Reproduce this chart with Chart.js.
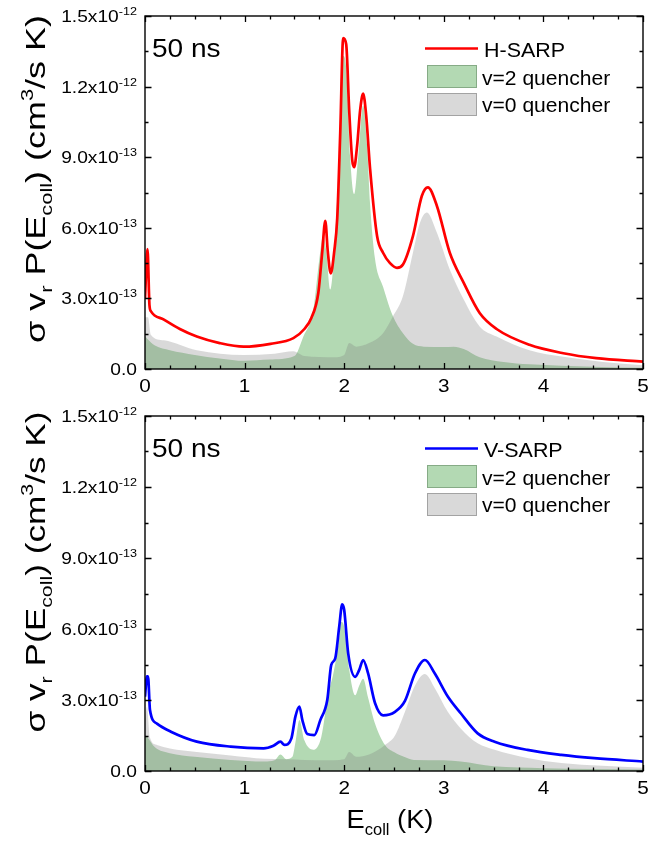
<!DOCTYPE html>
<html>
<head>
<meta charset="utf-8">
<script src="https://cdn.jsdelivr.net/npm/chart.js@4"></script>
<style>
  body { margin: 0; background: #fff; }
  #wrap { position: relative; width: 648px; height: 842px; }
  canvas { position: absolute; left: 0; }
</style>
</head>
<body>
<div id="wrap">
  <canvas id="topChart" width="648" height="400" style="top:0"></canvas>
  <canvas id="bottomChart" width="648" height="442" style="top:400px"></canvas>
</div>
<script>
// values in units of 1e-13 cm^3/(s K), energies in K
const hSarpE = [0, 0.025, 0.045, 0.06, 0.19, 0.35, 0.52, 0.75, 0.99, 1.26, 1.49, 1.6, 1.67, 1.74, 1.78, 1.81, 1.835, 1.865, 1.9, 1.93, 1.96, 1.99, 2.02, 2.05, 2.08, 2.1, 2.13, 2.16, 2.19, 2.22, 2.26, 2.33, 2.39, 2.46, 2.53, 2.59, 2.69, 2.78, 2.84, 2.93, 3.06, 3.2, 3.36, 3.53, 3.86, 4.2, 4.53, 5];
const hSarpV = [3.0, 5.1, 2.7, 2.45, 2.1, 1.7, 1.38, 1.1, 0.95, 1.07, 1.31, 1.7, 2.17, 3.23, 5.0, 6.3, 5.0, 4.06, 5.0, 6.4, 10.0, 14.06, 13.8, 11.0, 8.9, 8.58, 9.5, 11.0, 11.7, 10.8, 8.5, 5.65, 4.94, 4.5, 4.3, 4.44, 5.65, 7.36, 7.72, 6.94, 4.94, 3.66, 2.38, 1.7, 1.03, 0.67, 0.46, 0.31];

const topGreenE = [0, 0.02, 0.1, 0.25, 0.5, 0.75, 1.0, 1.25, 1.5, 1.59, 1.69, 1.75, 1.79, 1.82, 1.86, 1.9, 1.935, 1.97, 1.99, 2.02, 2.06, 2.1, 2.14, 2.19, 2.23, 2.26, 2.31, 2.39, 2.49, 2.59, 2.69, 2.8, 3.0, 3.1, 3.2, 3.36, 3.6, 3.86, 4.5, 5];
const topGreenV = [1.4, 1.3, 1.0, 0.8, 0.6, 0.45, 0.35, 0.4, 0.55, 1.38, 2.52, 4.66, 5.7, 5.0, 3.38, 5.0, 7.8, 12.0, 13.3, 12.8, 9.0, 7.44, 9.0, 11.2, 9.5, 7.0, 4.66, 3.5, 2.24, 1.52, 1.07, 0.95, 0.93, 0.95, 0.85, 0.5, 0.3, 0.2, 0.1, 0.05];

const topGreyE = [0, 0.03, 0.06, 0.19, 0.52, 0.99, 1.3, 1.49, 1.6, 1.9, 2.0, 2.05, 2.12, 2.25, 2.39, 2.49, 2.59, 2.69, 2.76, 2.83, 2.93, 3.06, 3.2, 3.36, 3.53, 3.86, 4.2, 4.6, 5];
const topGreyV = [2.2, 2.2, 1.45, 1.22, 0.8, 0.6, 0.65, 0.75, 0.55, 0.5, 0.6, 1.1, 0.95, 1.1, 1.52, 2.24, 3.1, 4.94, 6.2, 6.65, 5.8, 4.23, 2.95, 1.81, 1.38, 0.8, 0.52, 0.3, 0.16];

const vSarpE = [0, 0.02, 0.03, 0.05, 0.12, 0.26, 0.52, 0.86, 1.19, 1.29, 1.36, 1.4, 1.47, 1.51, 1.55, 1.58, 1.63, 1.7, 1.76, 1.83, 1.87, 1.91, 1.95, 1.98, 2.0, 2.04, 2.11, 2.15, 2.19, 2.24, 2.31, 2.39, 2.51, 2.61, 2.71, 2.81, 2.91, 3.04, 3.17, 3.34, 3.51, 3.84, 4.18, 4.51, 5];
const vSarpV = [3.14, 4.0, 4.0, 2.58, 2.0, 1.66, 1.24, 1.03, 0.96, 1.07, 1.24, 1.1, 1.38, 2.3, 2.72, 2.15, 1.56, 1.52, 2.15, 3.0, 4.48, 4.76, 6.1, 7.04, 6.8, 4.97, 3.98, 4.26, 4.69, 4.12, 2.86, 2.35, 2.5, 2.96, 4.12, 4.69, 4.12, 3.15, 2.44, 1.59, 1.24, 0.89, 0.68, 0.54, 0.4];

const botGreenE = [0, 0.02, 0.1, 0.25, 0.5, 0.86, 1.2, 1.3, 1.36, 1.42, 1.48, 1.51, 1.55, 1.6, 1.69, 1.77, 1.84, 1.89, 1.94, 1.97, 2.0, 2.05, 2.11, 2.15, 2.19, 2.24, 2.31, 2.41, 2.5, 2.6, 2.7, 3.0, 3.17, 3.5, 4.0, 5];
const botGreenV = [1.5, 1.45, 1.0, 0.75, 0.6, 0.47, 0.4, 0.45, 0.7, 0.5, 0.6, 1.2, 2.15, 1.3, 0.9, 1.44, 3.27, 4.1, 5.3, 6.3, 6.1, 4.3, 3.2, 3.6, 3.9, 3.1, 2.0, 1.1, 0.8, 0.6, 0.47, 0.45, 0.4, 0.2, 0.12, 0.06];

const botGreyE = [0, 0.02, 0.05, 0.12, 0.25, 0.52, 0.86, 1.2, 1.4, 1.8, 2.0, 2.05, 2.12, 2.25, 2.41, 2.51, 2.61, 2.71, 2.81, 2.91, 3.04, 3.17, 3.34, 3.51, 3.84, 4.18, 5];
const botGreyV = [2.2, 2.7, 1.4, 1.1, 0.95, 0.8, 0.66, 0.52, 0.5, 0.45, 0.5, 0.8, 0.6, 0.7, 1.1, 1.5, 2.5, 3.6, 4.1, 3.5, 2.5, 1.8, 1.17, 0.9, 0.55, 0.34, 0.14];

const FONT = '"Liberation Sans", Arial, Helvetica, sans-serif';
const GREEN = '#b3d9b3';
const GREY = 'rgba(124,124,124,0.29)';

function pts(xs, ys) { return xs.map((x, i) => ({ x: x, y: ys[i] })); }

// draws a row of text pieces [text, size, dy], horizontally stretched by sx
function drawParts(ctx, parts, x, y, align, sx) {
  let w = 0;
  const ws = parts.map(p => {
    ctx.font = p[1] + 'px ' + FONT;
    const m = ctx.measureText(p[0]).width * sx;
    w += m;
    return m;
  });
  let cx = align === 'right' ? x - w : align === 'center' ? x - w / 2 : x;
  parts.forEach((p, i) => {
    ctx.save();
    ctx.font = p[1] + 'px ' + FONT;
    ctx.textAlign = 'left';
    ctx.textBaseline = 'alphabetic';
    ctx.translate(cx, y + (p[2] || 0));
    ctx.scale(sx, 1);
    ctx.fillText(p[0], 0, 0);
    ctx.restore();
    cx += ws[i];
  });
}

function naturalWidth(ctx, parts) {
  let w = 0;
  parts.forEach(p => { ctx.font = p[1] + 'px ' + FONT; w += ctx.measureText(p[0]).width; });
  return w;
}

function yLabel(v) {
  if (v === 0) return [['0.0', 16]];
  if (v >= 10) return [[(v / 10).toFixed(1) + 'x10', 16], ['-12', 10.5, -7]];
  return [[v.toFixed(1) + 'x10', 16], ['-13', 10.5, -7]];
}

const framePlugin = {
  id: 'frame',
  afterDatasetsDraw(chart, args, opts) {
    const ctx = chart.ctx;
    const a = chart.chartArea;
    const xs = chart.scales.x, ys = chart.scales.y;
    ctx.save();
    ctx.strokeStyle = '#000';
    ctx.fillStyle = '#000';

    // ticks, inward on all four sides
    ctx.lineWidth = 1.3;
    const tickSet = (scale, sub) => {
      const out = [];
      const t = scale.ticks.map(k => k.value);
      t.forEach((v, i) => {
        out.push([v, true]);
        if (i < t.length - 1) {
          for (let j = 1; j < sub; j++) out.push([v + (t[i + 1] - v) * j / sub, false]);
        }
      });
      return out;
    };
    ctx.beginPath();
    tickSet(xs, 4).forEach(([v, major]) => {
      const px = Math.round(xs.getPixelForValue(v)) + 0.5;
      const L = major ? 6 : 3.5;
      ctx.moveTo(px, a.bottom); ctx.lineTo(px, a.bottom - L);
      ctx.moveTo(px, a.top); ctx.lineTo(px, a.top + L);
    });
    tickSet(ys, 2).forEach(([v, major]) => {
      const py = Math.round(ys.getPixelForValue(v)) + 0.5;
      const L = major ? 6.5 : 3.5;
      ctx.moveTo(a.left, py); ctx.lineTo(a.left + L, py);
      ctx.moveTo(a.right, py); ctx.lineTo(a.right - L, py);
    });
    ctx.stroke();

    ctx.lineWidth = 1.4;
    ctx.strokeRect(a.left, a.top, a.right - a.left, a.bottom - a.top);

    // tick labels
    xs.ticks.forEach(k => {
      drawParts(ctx, [[String(k.value), 18.5]], xs.getPixelForValue(k.value), a.bottom + 22.5, 'center', 1.12);
    });
    ys.ticks.forEach(k => {
      drawParts(ctx, yLabel(k.value), a.left - 8, ys.getPixelForValue(k.value) + 6, 'right', 1.2);
    });

    // y axis title, rotated
    const title = [['σ v', 28], ['r', 17, 7], [' P(E', 28], ['coll', 17, 7], [') (cm', 28], ['3', 17, -12], ['/s K)', 28]];
    const sx = opts.titleLen / naturalWidth(ctx, title);
    ctx.save();
    ctx.translate(45, opts.titleCenter);
    ctx.rotate(-Math.PI / 2);
    drawParts(ctx, title, 0, 0, 'center', sx);
    ctx.restore();

    // time label
    drawParts(ctx, [['50 ns', 25.5]], a.left + 7, a.top + 41, 'left', 1.1);

    // legend
    const lx = 425, ty = a.top;
    ctx.strokeStyle = opts.lineColor;
    ctx.lineWidth = 2.5;
    ctx.beginPath(); ctx.moveTo(lx, ty + 32.5); ctx.lineTo(lx + 53, ty + 32.5); ctx.stroke();
    ctx.lineWidth = 1;
    ctx.fillStyle = GREEN; ctx.fillRect(lx + 2, ty + 49, 50, 23);
    ctx.strokeStyle = '#86ab86'; ctx.strokeRect(lx + 2.5, ty + 49.5, 49, 22);
    ctx.fillStyle = '#d9d9d9'; ctx.fillRect(lx + 2, ty + 77, 50, 23);
    ctx.strokeStyle = '#a3a3a3'; ctx.strokeRect(lx + 2.5, ty + 77.5, 49, 22);
    ctx.fillStyle = '#000';
    drawParts(ctx, [[opts.lineLabel, 19.5]], 484, ty + 40.5, 'left', 1.1);
    drawParts(ctx, [['v=2 quencher', 19.5]], 482, ty + 69, 'left', 1.08);
    drawParts(ctx, [['v=0 quencher', 19.5]], 482, ty + 96, 'left', 1.08);

    if (opts.xTitle) {
      drawParts(ctx, [['E', 26.5], ['coll', 16, 7], [' (K)', 26.5]], 390, a.bottom + 57, 'center', 1.03);
    }
    ctx.restore();
  }
};

function makePanel(id, lineLabel, lineColor, lineData, greenData, greyData, frameOpts, bottomSpace) {
  return new Chart(document.getElementById(id), {
    type: 'line',
    data: {
      datasets: [
        { label: lineLabel, data: lineData, borderColor: lineColor, borderWidth: 2.7, fill: false, order: 0 },
        { label: 'v=0 quencher', data: greyData, borderWidth: 0, borderColor: 'rgba(0,0,0,0)', backgroundColor: GREY, fill: 'origin', order: 1 },
        { label: 'v=2 quencher', data: greenData, borderWidth: 0, borderColor: 'rgba(0,0,0,0)', backgroundColor: GREEN, fill: 'origin', order: 2 }
      ]
    },
    options: {
      responsive: false,
      animation: false,
      events: [],
      elements: { point: { radius: 0 }, line: { cubicInterpolationMode: 'monotone' } },
      layout: { padding: { top: 16, right: 5, left: 0, bottom: 0 } },
      scales: {
        x: {
          type: 'linear', min: 0, max: 5,
          ticks: { stepSize: 1, display: false },
          grid: { display: false }, border: { display: false },
          afterFit: s => { s.height = bottomSpace; }
        },
        y: {
          min: 0, max: 15,
          ticks: { stepSize: 3, display: false },
          grid: { display: false }, border: { display: false },
          afterFit: s => { s.width = 145; }
        }
      },
      plugins: {
        legend: { display: false },
        tooltip: { enabled: false },
        frame: Object.assign({ lineLabel: lineLabel, lineColor: lineColor }, frameOpts)
      }
    },
    plugins: [framePlugin]
  });
}

makePanel('topChart', 'H-SARP', '#ff0000', pts(hSarpE, hSarpV), pts(topGreenE, topGreenV), pts(topGreyE, topGreyV),
  { titleCenter: 179, titleLen: 328, xTitle: false }, 31);
makePanel('bottomChart', 'V-SARP', '#0000ff', pts(vSarpE, vSarpV), pts(botGreenE, botGreenV), pts(botGreyE, botGreyV),
  { titleCenter: 172, titleLen: 321, xTitle: true }, 71);
</script>
</body>
</html>
